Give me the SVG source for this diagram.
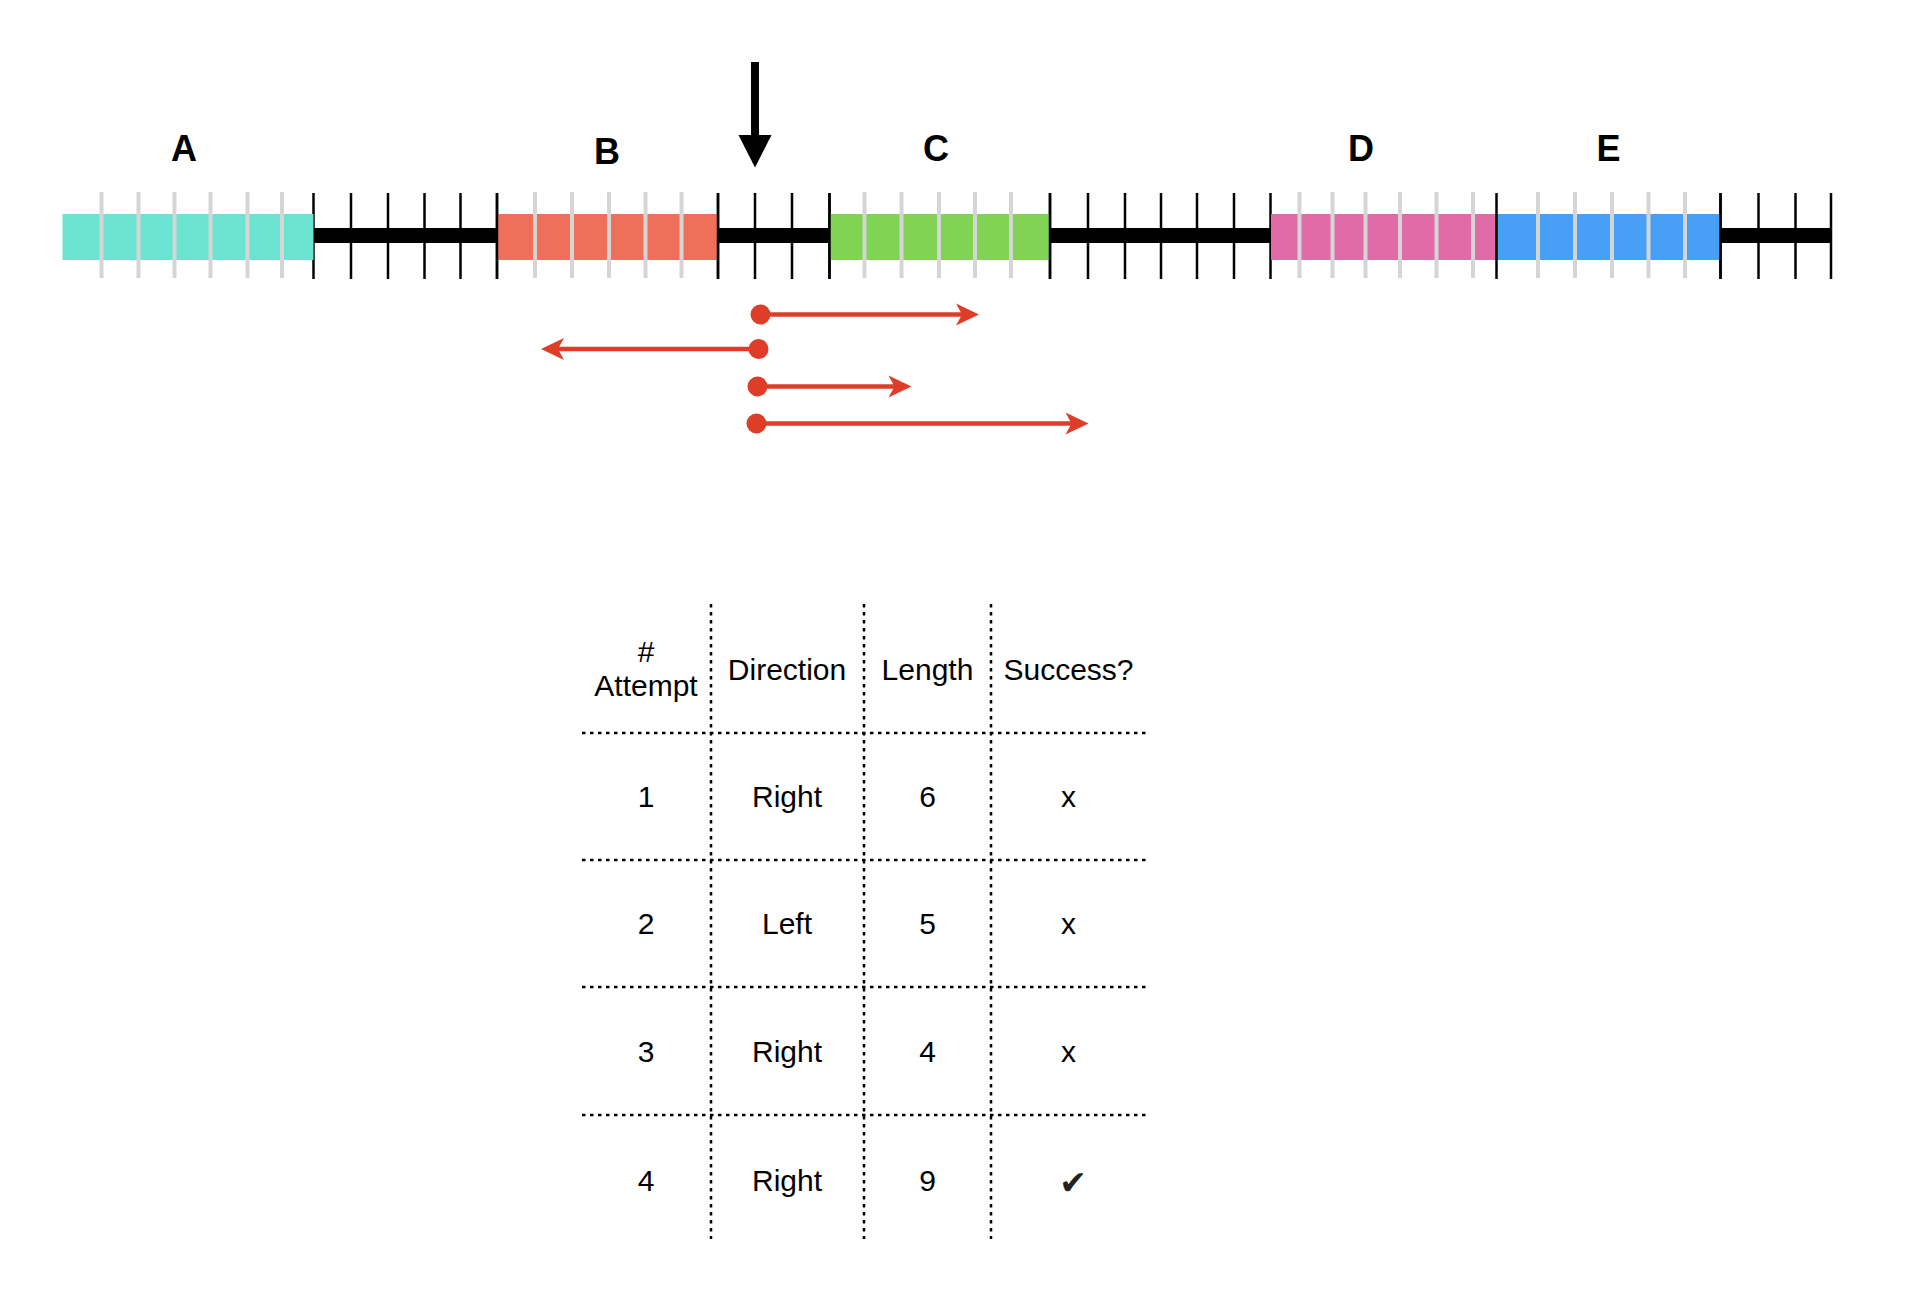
<svg xmlns="http://www.w3.org/2000/svg" width="1918" height="1314" viewBox="0 0 1918 1314">
<style>
.lbl{font-family:"Liberation Sans",Arial,sans-serif;font-weight:bold;font-size:36px;fill:#000;text-anchor:middle}
.tt{font-family:"Liberation Sans",Arial,sans-serif;font-size:30px;fill:#000;text-anchor:middle}
.bt{stroke:#000;stroke-width:2.5}
.gt{stroke:#d5d5d5;stroke-width:4}
.bar{fill:#000}
.ra{stroke:#df3d28;stroke-width:4.5;fill:none;marker-end:url(#ah)}
.dot{fill:#df3d28}
.dl{stroke:#000;stroke-width:2.5;stroke-dasharray:3.5 4.5;fill:none}
</style>
<defs>
<marker id="ah" markerUnits="userSpaceOnUse" markerWidth="30" markerHeight="30" viewBox="-25 -15 30 30" refX="-15" refY="0" orient="auto" overflow="visible">
<path d="M0,0 L-23,-11 L-17,0 L-23,11 Z" fill="#df3d28"/>
</marker>
</defs>
<rect width="1918" height="1314" fill="#fff"/>
<g id="track">
<rect class="bar" x="313.5" y="228" width="184" height="15"/>
<rect class="bar" x="718" y="228" width="112" height="15"/>
<rect class="bar" x="1050" y="228" width="221" height="15"/>
<rect class="bar" x="1720.5" y="228" width="111.5" height="15"/>
<g class="bt">
<line x1="313.5" y1="193" x2="313.5" y2="279"/><line x1="351" y1="193" x2="351" y2="279"/><line x1="388" y1="193" x2="388" y2="279"/><line x1="424.5" y1="193" x2="424.5" y2="279"/><line x1="460.5" y1="193" x2="460.5" y2="279"/><line x1="497" y1="193" x2="497" y2="279"/>
<line x1="718" y1="193" x2="718" y2="279"/><line x1="755" y1="193" x2="755" y2="279"/><line x1="792" y1="193" x2="792" y2="279"/><line x1="829.5" y1="193" x2="829.5" y2="279"/>
<line x1="1050" y1="193" x2="1050" y2="279"/><line x1="1088" y1="193" x2="1088" y2="279"/><line x1="1125" y1="193" x2="1125" y2="279"/><line x1="1161" y1="193" x2="1161" y2="279"/><line x1="1197" y1="193" x2="1197" y2="279"/><line x1="1234" y1="193" x2="1234" y2="279"/><line x1="1270.5" y1="193" x2="1270.5" y2="279"/>
<line x1="1720.5" y1="193" x2="1720.5" y2="279"/><line x1="1758.5" y1="193" x2="1758.5" y2="279"/><line x1="1795.5" y1="193" x2="1795.5" y2="279"/><line x1="1831" y1="193" x2="1831" y2="279"/>
</g>
</g>
<g id="node-A">
<rect x="62.5" y="214" width="251" height="46" fill="#6ae3d1"/>
<g class="gt"><line x1="101.5" y1="192" x2="101.5" y2="278"/><line x1="138.5" y1="192" x2="138.5" y2="278"/><line x1="174.5" y1="192" x2="174.5" y2="278"/><line x1="210.5" y1="192" x2="210.5" y2="278"/><line x1="247.5" y1="192" x2="247.5" y2="278"/><line x1="282" y1="192" x2="282" y2="278"/></g>
<text class="lbl" x="184" y="161">A</text>
</g>
<g id="node-B">
<rect x="497" y="214" width="221" height="46" fill="#ef705a"/>
<g class="gt"><line x1="535" y1="192" x2="535" y2="278"/><line x1="572" y1="192" x2="572" y2="278"/><line x1="609" y1="192" x2="609" y2="278"/><line x1="645.5" y1="192" x2="645.5" y2="278"/><line x1="681.5" y1="192" x2="681.5" y2="278"/></g>
<line class="bt" x1="497" y1="193" x2="497" y2="279"/><line class="bt" x1="718" y1="193" x2="718" y2="279"/>
<text class="lbl" x="607" y="163.5">B</text>
</g>
<g id="node-C">
<rect x="829.5" y="214" width="220.5" height="46" fill="#80d353"/>
<g class="gt"><line x1="864.5" y1="192" x2="864.5" y2="278"/><line x1="901.5" y1="192" x2="901.5" y2="278"/><line x1="939" y1="192" x2="939" y2="278"/><line x1="975" y1="192" x2="975" y2="278"/><line x1="1011" y1="192" x2="1011" y2="278"/></g>
<line class="bt" x1="829.5" y1="193" x2="829.5" y2="279"/><line class="bt" x1="1050" y1="193" x2="1050" y2="279"/>
<text class="lbl" x="936" y="161">C</text>
</g>
<g id="node-D">
<rect x="1271" y="214" width="225.5" height="46" fill="#e06ba6"/>
<g class="gt"><line x1="1299.5" y1="192" x2="1299.5" y2="278"/><line x1="1332.5" y1="192" x2="1332.5" y2="278"/><line x1="1365.5" y1="192" x2="1365.5" y2="278"/><line x1="1400" y1="192" x2="1400" y2="278"/><line x1="1436.5" y1="192" x2="1436.5" y2="278"/><line x1="1473" y1="192" x2="1473" y2="278"/></g>
<text class="lbl" x="1361" y="161">D</text>
</g>
<g id="node-E">
<rect x="1496.5" y="214" width="224" height="46" fill="#47a0f5"/>
<g class="gt"><line x1="1538" y1="192" x2="1538" y2="278"/><line x1="1575" y1="192" x2="1575" y2="278"/><line x1="1612" y1="192" x2="1612" y2="278"/><line x1="1648.5" y1="192" x2="1648.5" y2="278"/><line x1="1685" y1="192" x2="1685" y2="278"/></g>
<line class="bt" x1="1496.5" y1="193" x2="1496.5" y2="279"/><line class="bt" x1="1720.5" y1="193" x2="1720.5" y2="279"/>
<text class="lbl" x="1608.5" y="161">E</text>
</g>
<g id="pointer">
<rect x="751" y="62" width="8" height="74" fill="#000"/>
<polygon points="738.5,135 771.5,135 755,167.5" fill="#000"/>
</g>
<g id="connectors">
<circle class="dot" cx="760.5" cy="314.5" r="10"/><line class="ra" x1="760.5" y1="314.5" x2="964" y2="314.5"/>
<circle class="dot" cx="758.5" cy="349" r="10"/><line class="ra" x1="758.5" y1="349" x2="556" y2="349"/>
<circle class="dot" cx="757.5" cy="386.5" r="10"/><line class="ra" x1="757.5" y1="386.5" x2="896.5" y2="386.5"/>
<circle class="dot" cx="756.5" cy="423.5" r="10"/><line class="ra" x1="756.5" y1="423.5" x2="1073.5" y2="423.5"/>
</g>
<g id="table">
<line class="dl" x1="711" y1="604" x2="711" y2="1239"/>
<line class="dl" x1="864" y1="604" x2="864" y2="1239"/>
<line class="dl" x1="991" y1="604" x2="991" y2="1239"/>
<line class="dl" x1="582" y1="733" x2="1146" y2="733"/>
<line class="dl" x1="582" y1="860" x2="1146" y2="860"/>
<line class="dl" x1="582" y1="987" x2="1146" y2="987"/>
<line class="dl" x1="582" y1="1115" x2="1146" y2="1115"/>
<text class="tt" x="646" y="662">#</text>
<text class="tt" x="646" y="695.5">Attempt</text>
<text class="tt" x="787" y="679.5">Direction</text>
<text class="tt" x="927.5" y="679.5">Length</text>
<text class="tt" x="1068.5" y="679.5">Success?</text>
<text class="tt" x="646" y="807">1</text><text class="tt" x="787" y="807">Right</text><text class="tt" x="927.5" y="807">6</text><text class="tt" x="1068.5" y="807">x</text>
<text class="tt" x="646" y="934">2</text><text class="tt" x="787" y="934">Left</text><text class="tt" x="927.5" y="934">5</text><text class="tt" x="1068.5" y="934">x</text>
<text class="tt" x="646" y="1061.5">3</text><text class="tt" x="787" y="1061.5">Right</text><text class="tt" x="927.5" y="1061.5">4</text><text class="tt" x="1068.5" y="1061.5">x</text>
<text class="tt" x="646" y="1191">4</text><text class="tt" x="787" y="1191">Right</text><text class="tt" x="927.5" y="1191">9</text>
<text x="1073" y="1194" style="font-family:'DejaVu Sans',sans-serif;font-size:33px;fill:#222;text-anchor:middle">✔</text>
</g>
</svg>
